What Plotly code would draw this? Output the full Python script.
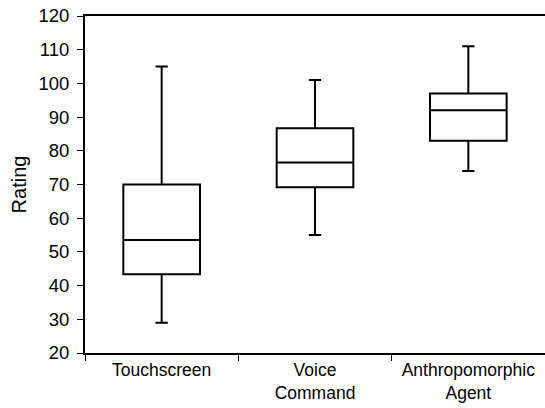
import plotly.graph_objects as go

categories = ["Touchscreen", "Voice<br>Command", "Anthropomorphic<br>Agent"]
lower_whisker = [29, 55, 74]
q1 = [43.4, 69.2, 83]
median = [53.5, 76.5, 92]
q3 = [70, 86.7, 97]
upper_whisker = [105, 101, 111]
y_ticks = list(range(20, 121, 10))

fig = go.Figure()
fig.add_trace(go.Box(
    x=categories,
    q1=q1, median=median, q3=q3,
    lowerfence=lower_whisker, upperfence=upper_whisker,
    fillcolor="white",
    line=dict(color="black", width=2),
    width=0.5,
    whiskerwidth=0.16,
    boxpoints=False,
    showlegend=False,
))

font = dict(family="Liberation Sans, Arial, sans-serif", size=17, color="black")
fig.update_layout(
    width=545, height=408,
    margin=dict(l=85, r=0, t=16, b=55),
    plot_bgcolor="white", paper_bgcolor="white",
    font=font,
    xaxis=dict(
        range=[-0.5, 2.5],
        showline=True, linecolor="black", linewidth=2, mirror=True,
        ticks="outside", tickson="boundaries", ticklen=6, tickcolor="black", tickwidth=1,
        tickfont=dict(size=17.5),
        showgrid=False, zeroline=False,
    ),
    yaxis=dict(
        range=[20, 120], tickvals=y_ticks,
        showline=True, linecolor="black", linewidth=2,
        ticks="outside", ticklen=6, tickcolor="black", tickwidth=1,
        tickfont=dict(size=18.5), ticklabelstandoff=4,
        showgrid=False, zeroline=False,
        title=dict(text="Rating", standoff=6),
    ),
)

fig.write_html("out.html")
